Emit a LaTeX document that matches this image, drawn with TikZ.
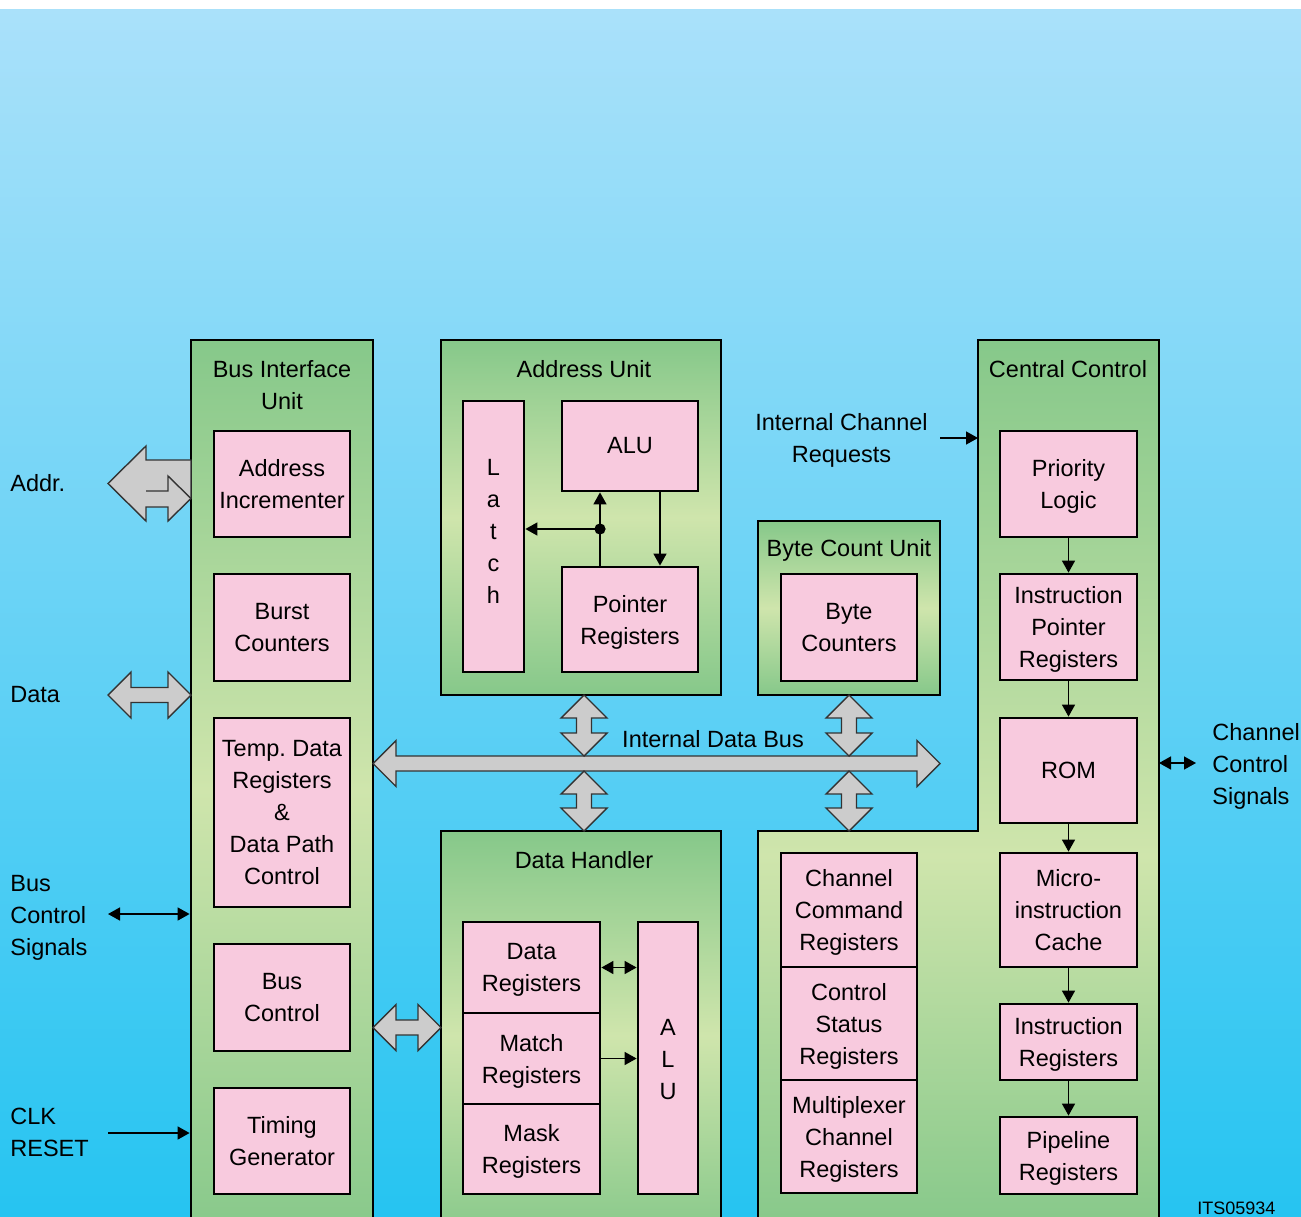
\documentclass[tikz,border=0pt]{standalone}
\usepackage{fontspec}
\setmainfont{Liberation Sans}
\usetikzlibrary{arrows.meta,calc}
\definecolor{gdark}{RGB}{134,200,138}
\definecolor{glight}{RGB}{207,229,172}
\definecolor{pinkc}{RGB}{248,202,222}
\definecolor{skytop}{RGB}{170,225,250}
\definecolor{skybot}{RGB}{38,196,241}
\definecolor{grayarr}{RGB}{204,204,204}
\pgfdeclareverticalshading{ccshade}{100bp}{color(0bp)=(gdark); color(25bp)=(gdark); color(46bp)=(glight); color(75bp)=(gdark); color(100bp)=(gdark)}
\newcommand{\nd}[1]{\raisebox{0pt}[\height][0pt]{#1}}
\newcommand{\hdblarrow}[3]{%
  \path[blockarrow] (#1,#3) -- ({#1+23},{#3-23}) -- ({#1+23},{#3-7.5}) -- ({#2-23},{#3-7.5}) -- ({#2-23},{#3-23}) -- (#2,#3) -- ({#2-23},{#3+23}) -- ({#2-23},{#3+7.5}) -- ({#1+23},{#3+7.5}) -- ({#1+23},{#3+23}) -- cycle;}
\newcommand{\vdblarrow}[3]{%
  \path[blockarrow] (#1,#2) -- ({#1+23},{#2+23}) -- ({#1+7.5},{#2+23}) -- ({#1+7.5},{#3-23}) -- ({#1+23},{#3-23}) -- (#1,#3) -- ({#1-23},{#3-23}) -- ({#1-7.5},{#3-23}) -- ({#1-7.5},{#2+23}) -- ({#1-23},{#2+23}) -- cycle;}
\begin{document}
\begin{tikzpicture}[x=0.5pt,y=-0.5pt,
  txt/.style={font=\fontsize{11.75pt}{16pt}\selectfont, inner sep=0pt},
  oneline/.style={text height=8.4pt, text depth=0pt},
  greenbox/.style={draw=black, line width=1.4pt, top color=gdark, bottom color=gdark, middle color=glight, rectangle, inner sep=0pt},
  pinkbox/.style={draw=black, line width=1.4pt, fill=pinkc, rectangle, align=center, inner sep=0pt, txt},
  conn/.style={line width=0.75pt, -{Triangle[length=6pt,width=6.5pt]}},
  dconn/.style={line width=0.75pt, {Triangle[length=6pt,width=6.5pt]}-{Triangle[length=6pt,width=6.5pt]}},
  blockarrow/.style={fill=grayarr, draw=black!80, line width=0.7pt, line join=miter},
]
\useasboundingbox (0,0) rectangle (1301,1216);
\clip (0,0) rectangle (1301,1216);
% background
\fill[white] (0,0) rectangle (1301,9);
\shade[top color=skytop, bottom color=skybot] (0,9) rectangle (1301,1216);

% green containers
\node[greenbox, minimum width=91pt, minimum height=450pt] (biu) at (282,790) {};
\node[greenbox, minimum width=140pt, minimum height=177.5pt] (au) at (581,517.5) {};
\node[greenbox, minimum width=91pt, minimum height=87pt] (bcu) at (849,608) {};
\node[greenbox, minimum width=140pt, minimum height=204.5pt] (dh) at (581,1035.5) {};
\path[draw=black, line width=1.4pt, shading=ccshade] (978,340) -- (1159,340) -- (1159,1230) -- (758,1230) -- (758,831) -- (978,831) -- cycle;
\coordinate (ccw) at (978,438);
\coordinate (cce) at (1159,763);

% titles
\node[txt, align=center] (biut) at (282,385) {Bus Interface\\Unit};
\node[txt, oneline] (aut) at (584,369) {Address Unit};
\node[txt, oneline] (bcut) at (849,548) {Byte Count Unit};
\node[txt, oneline] (dht) at (584,860) {Data Handler};
\node[txt, oneline] (cct) at (1068,369) {Central Control};

% Bus interface unit
\node[pinkbox, minimum width=68pt, minimum height=53pt] (ai) at (282,484) {Address\\Incrementer};
\node[pinkbox, minimum width=68pt, minimum height=53.5pt] (bc) at (282,627.5) {Burst\\Counters};
\node[pinkbox, minimum width=68pt, minimum height=94.5pt] (td) at (282,812.5) {Temp.\ Data\\Registers\\\&\\Data Path\\Control};
\node[pinkbox, minimum width=68pt, minimum height=53.5pt] (bcl) at (282,997.5) {Bus\\Control};
\node[pinkbox, minimum width=68pt, minimum height=53pt] (tg) at (282,1141) {Timing\\Generator};

% Address unit
\node[pinkbox, minimum width=30.5pt, minimum height=135.5pt] (latch) at (493.5,536.5) {};
\node[txt, align=center] (latcht) at (493.5,531.5) {L\\a\\t\\c\\h};
\node[pinkbox, minimum width=68pt, minimum height=45pt] (alu) at (630,446) {ALU};
\node[pinkbox, minimum width=68pt, minimum height=52.5pt] (ptr) at (630,619.5) {Pointer\\\nd{Registers}};

% Byte count unit
\node[pinkbox, minimum width=68pt, minimum height=53.5pt] (bcnt) at (849,627.5) {Byte\\Counters};

% Data handler
\node[pinkbox, minimum width=68.5pt, minimum height=45.5pt] (dreg) at (531.5,967.5) {Data\\\nd{Registers}};
\node[pinkbox, minimum width=68.5pt, minimum height=45.5pt] (mreg) at (531.5,1058.5) {Match\\\nd{Registers}};
\node[pinkbox, minimum width=68.5pt, minimum height=45pt] (kreg) at (531.5,1149) {Mask\\\nd{Registers}};
\node[pinkbox, minimum width=30pt, minimum height=136pt] (dalu) at (668,1058) {};
\node[txt, align=center] (dalut) at (668,1060) {A\\L\\U};

% Central control lower-left
\node[pinkbox, minimum width=68pt, minimum height=57pt] (chcmd) at (849,910) {Channel\\Command\\\nd{Registers}};
\node[pinkbox, minimum width=68pt, minimum height=56.5pt] (cstat) at (849,1023.5) {Control\\Status\\\nd{Registers}};
\node[pinkbox, minimum width=68pt, minimum height=56.5pt] (mux) at (849,1136.5) {Multiplexer\\Channel\\\nd{Registers}};

% Central control column
\node[pinkbox, minimum width=68.5pt, minimum height=53pt] (pri) at (1068.5,484) {Priority\\\nd{Logic}};
\node[pinkbox, minimum width=68.5pt, minimum height=53pt] (ipr) at (1068.5,627) {Instruction\\Pointer\\\nd{Registers}};
\node[pinkbox, minimum width=68.5pt, minimum height=52.5pt] (rom) at (1068.5,770.5) {ROM};
\node[pinkbox, minimum width=68.5pt, minimum height=57pt] (mic) at (1068.5,910) {Micro-\\instruction\\Cache};
\node[pinkbox, minimum width=68.5pt, minimum height=38pt] (ir) at (1068.5,1042) {Instruction\\\nd{Registers}};
\node[pinkbox, minimum width=68.5pt, minimum height=38.5pt] (pipe) at (1068.5,1155.5) {Pipeline\\\nd{Registers}};

% block arrows
\path[blockarrow] (191,460) -- (146,460) -- (146,446) -- (108,483.5) -- (146,521) -- (146,507) -- (168,507) -- (168,521) -- (191,498.5) -- cycle;
\draw[black!80, line width=0.7pt, line join=miter] (146,491) -- (168,491) -- (168,476) -- (191,498.5);
\hdblarrow{108}{191}{695}
\hdblarrow{373}{940}{763.5}
\hdblarrow{373}{441}{1027.5}
\vdblarrow{584}{695}{756}
\vdblarrow{584}{771}{831}
\vdblarrow{849}{695}{756}
\vdblarrow{849}{771}{831}

% connectors
\draw[conn] (pri) -- (ipr);
\draw[conn] (ipr) -- (rom);
\draw[conn] (rom) -- (mic);
\draw[conn] (mic) -- (ir);
\draw[conn] (ir) -- (pipe);
\coordinate (x660) at (660,0);
\coordinate (jd) at (600,529);
\draw[conn] (alu.south -| x660) -- (ptr.north -| x660);
\draw[conn] (ptr.north -| jd) -- (alu.south -| jd);
\fill (jd) circle[radius=2.8pt];
\draw[conn] (jd) -- (jd -| latch.east);
\draw[dconn] (dreg.east) -- (dreg.east -| dalu.west);
\draw[conn] (mreg.east) -- (mreg.east -| dalu.west);
\coordinate (icrs) at (940,438);
\draw[conn] (icrs) -- (ccw);
\coordinate (ccse) at (1196,763);
\draw[dconn] (cce) -- (ccse);
\coordinate (bcss) at (108,914);
\draw[dconn] (bcss) -- (bcss -| biu.west);
\coordinate (clks) at (108,1133);
\draw[conn] (clks) -- (clks -| biu.west);

% outside labels
\node[txt, oneline, anchor=west] (addrl) at (10,483) {Addr.};
\node[txt, oneline, anchor=west] (datal) at (10,694) {Data};
\node[txt, anchor=west, align=left] (bcsl) at (10,915) {Bus\\Control\\\nd{Signals}};
\node[txt, anchor=west, align=left] (clkl) at (10,1132.5) {CLK\\RESET};
\node[txt, align=center] (icrl) at (841.5,438) {Internal Channel\\\nd{Requests}};
\node[txt, oneline] (idbl) at (713,739) {Internal Data Bus};
\node[txt, anchor=west, align=left] (ccsl) at (1212,764) {Channel\\Control\\\nd{Signals}};
\node[font=\fontsize{9pt}{10pt}\selectfont, inner sep=0pt, anchor=west, oneline, text height=6.5pt] (its) at (1197,1208) {ITS05934};
\end{tikzpicture}
\end{document}
